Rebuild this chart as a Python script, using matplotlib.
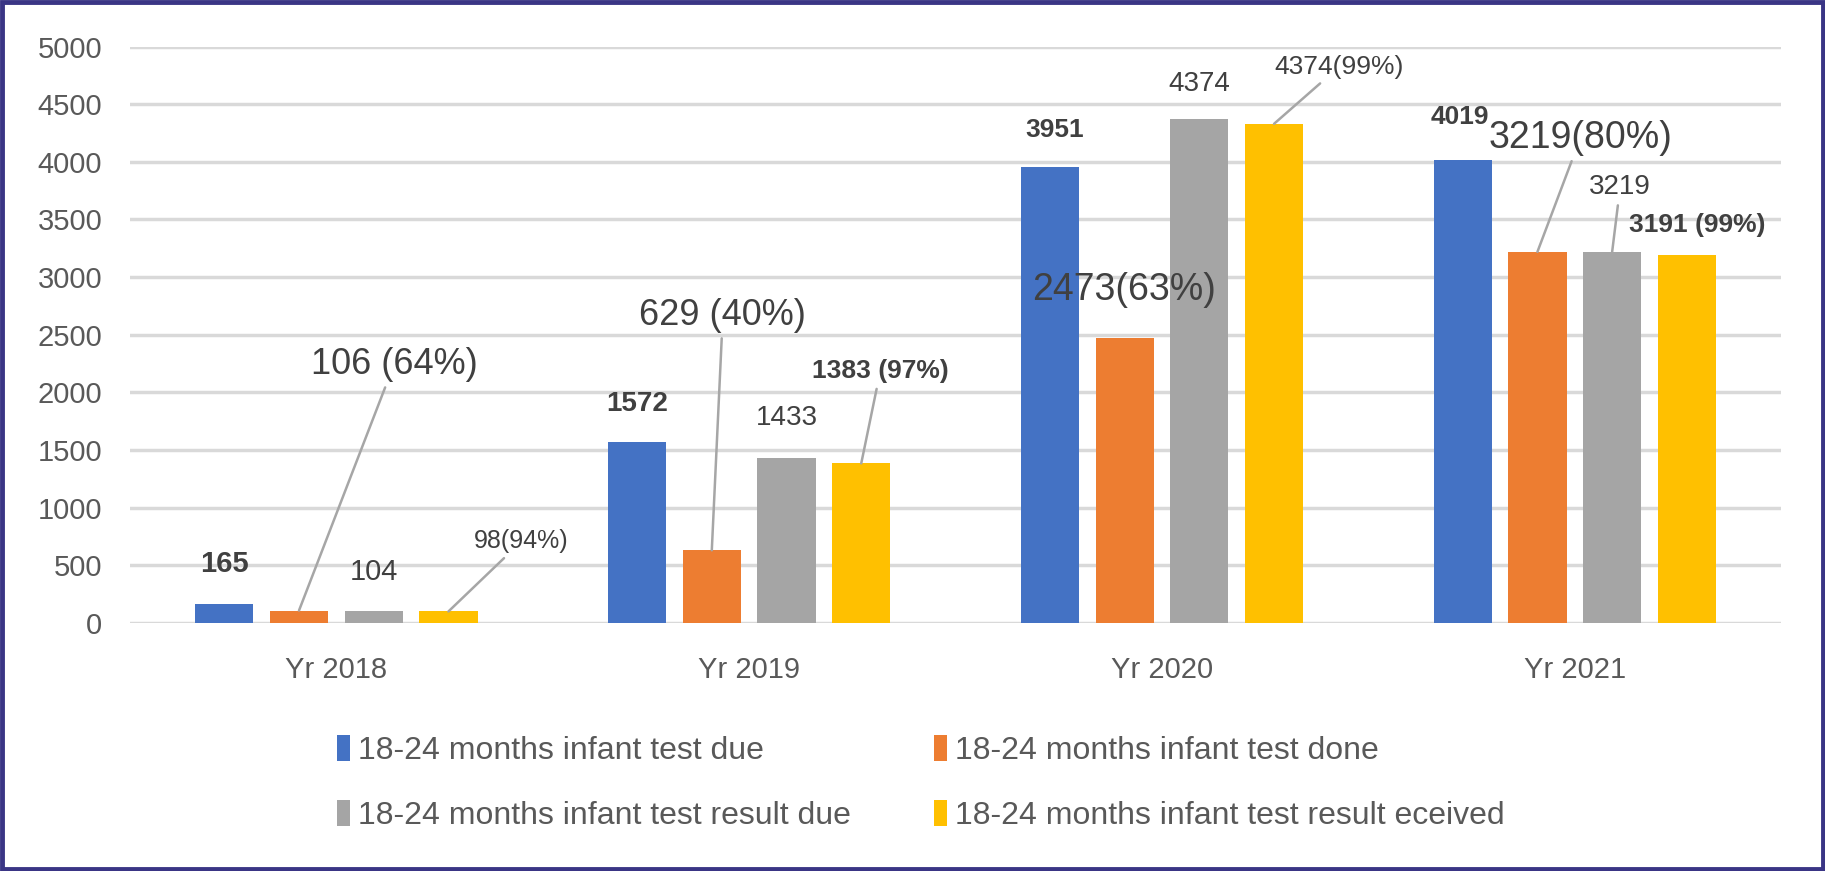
import matplotlib.pyplot as plt
import matplotlib.patches as mpatches
import numpy as np

plt.rcParams['font.family'] = ['Liberation Sans', 'DejaVu Sans']

years = ['Yr 2018', 'Yr 2019', 'Yr 2020', 'Yr 2021']
series_names = ['18-24 months infant test due', '18-24 months infant test done',
                '18-24 months infant test result due', '18-24 months infant test result eceived']
due = [165, 1572, 3951, 4019]
done = [106, 629, 2473, 3219]
result_due = [104, 1433, 4374, 3219]
received = [98, 1383, 4330, 3191]
colors = ['#4472C4', '#ED7D31', '#A5A5A5', '#FFC000']

due_labels = ['165', '1572', '3951', '4019']
done_labels = ['106 (64%)', '629 (40%)', '2473(63%)', '3219(80%)']
result_due_labels = ['104', '1433', '4374', '3219']
received_labels = ['98(94%)', '1383 (97%)', '4374(99%)', '3191 (99%)']

# label style per bar: (dx px, dy px, fontsize, bold, leader line)
label_style = {
    0: [(0, 40, 21, True, False), (0, 38, 20, True, False), (5, 37, 19, True, False), (-3, 43, 19, True, False)],
    1: [(95, 246, 26, False, True), (11, 235, 26, False, True), (-1, 48, 27, False, False), (43, 114, 27, False, True)],
    2: [(0, 39, 21, False, False), (0, 40, 20, False, False), (0, 35, 20, False, False), (8, 65, 20, False, True)],
    3: [(73, 70, 18, False, True), (19, 92, 19, True, True), (65, 57, 19, False, True), (10, 30, 19, True, False)],
}

fig = plt.figure(figsize=(18.25, 8.71), dpi=100)
ax = fig.add_axes([0.0712, 0.285, 0.9048, 0.6615])

x = np.arange(len(years))
width = 0.141
step = 0.181
all_vals = [due, done, result_due, received]
all_labels = [due_labels, done_labels, result_due_labels, received_labels]

bars = []
for i, (vals, labs) in enumerate(zip(all_vals, all_labels)):
    pos = x + (i - 1.5) * step
    b = ax.bar(pos, vals, width, color=colors[i], label=series_names[i], zorder=3)
    bars.append(b)
    for j in range(len(years)):
        dx, dy, fs, bold, leader = label_style[i][j]
        ap = None
        if leader:
            ap = dict(arrowstyle='-', color='#A6A6A6', lw=1.8, shrinkA=2, shrinkB=0)
        ax.annotate(labs[j], xy=(pos[j], vals[j]), xytext=(dx * 0.72, dy * 0.72),
                    textcoords='offset points', ha='center', va='center',
                    fontsize=fs, fontweight='bold' if bold else 'normal',
                    color='#404040', arrowprops=ap, zorder=4)

ax.set_xlim(-0.5, 3.5)
ax.set_ylim(0, 5000)
ax.set_yticks(range(0, 5001, 500))
ax.set_xticks(x)
ax.set_xticklabels(years)
ax.tick_params(axis='both', length=0, labelsize=21, colors='#595959')
ax.tick_params(axis='x', pad=24)
ax.tick_params(axis='y', pad=20)
ax.grid(axis='y', color='#D9D9D9', lw=2.5, zorder=0)
for s in ax.spines.values():
    s.set_visible(False)

# row-wise legend order: due, done / result due, received
order = [0, 2, 1, 3]
fig.legend([bars[k] for k in order], [series_names[k] for k in order],
           loc='center', bbox_to_anchor=(0.5046, 0.101), ncol=2, frameon=False,
           fontsize=23, handlelength=0.42, handleheight=0.9, handletextpad=0.25,
           columnspacing=2.6, labelspacing=1.05, labelcolor='#595959')

fig.patches.append(mpatches.Rectangle((0.001, 0.002), 0.998, 0.996, transform=fig.transFigure,
                                      fill=False, edgecolor='#3A3585', lw=3.5))

fig.savefig('out.png', dpi=100)
